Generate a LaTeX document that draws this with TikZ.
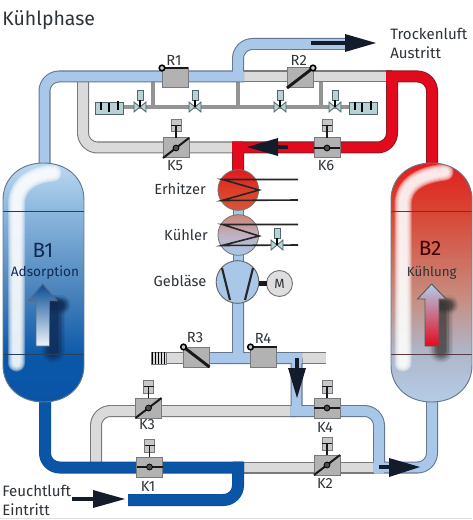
\documentclass[tikz,border=0pt]{standalone}
\usepackage{fontspec}
\setmainfont{Fira Sans}
\usetikzlibrary{arrows.meta}
\definecolor{ink}{HTML}{2E3338}
\definecolor{dark}{HTML}{141C2B}
\definecolor{lbF}{HTML}{A9C8E9}\definecolor{lbO}{HTML}{67788E}
\definecolor{grF}{HTML}{DADADA}\definecolor{grO}{HTML}{77797C}
\definecolor{rdF}{HTML}{E30A1E}\definecolor{rdO}{HTML}{8E1A22}
\definecolor{dbF}{HTML}{0A55A6}\definecolor{dbO}{HTML}{0A50A0}
\definecolor{teal1}{HTML}{B6D2D4}\definecolor{teal2}{HTML}{4F6468}
\definecolor{navy}{HTML}{0E2A55}
\definecolor{lineA}{HTML}{24405F}\definecolor{lineB}{HTML}{5A3A3A}
\pgfdeclareverticalshading{vesA}{100bp}{
 rgb(0bp)=(0.04,0.33,0.65);rgb(25bp)=(0.04,0.33,0.65);rgb(34bp)=(0.04,0.34,0.66);rgb(35bp)=(0.05,0.35,0.67);
 rgb(47bp)=(0.27,0.50,0.73);rgb(65bp)=(0.55,0.72,0.87);rgb(75bp)=(0.74,0.85,0.94);rgb(100bp)=(0.74,0.85,0.94)}
\pgfdeclareverticalshading{vesB}{100bp}{
 rgb(0bp)=(0.71,0.80,0.90);rgb(25bp)=(0.71,0.80,0.90);rgb(35bp)=(0.68,0.72,0.80);
 rgb(47bp)=(0.78,0.55,0.50);rgb(65bp)=(0.85,0.27,0.20);rgb(75bp)=(0.88,0.12,0.12);rgb(100bp)=(0.88,0.12,0.12)}
\pgfdeclareverticalshading{heatS}{100bp}{
 rgb(0bp)=(0.85,0.33,0.22);rgb(25bp)=(0.85,0.33,0.22);rgb(50bp)=(0.87,0.24,0.16);rgb(75bp)=(0.88,0.10,0.12);rgb(100bp)=(0.88,0.10,0.12)}
\pgfdeclareverticalshading{coolS}{100bp}{
 rgb(0bp)=(0.66,0.78,0.91);rgb(25bp)=(0.66,0.78,0.91);rgb(50bp)=(0.75,0.70,0.76);rgb(75bp)=(0.80,0.52,0.46);rgb(100bp)=(0.80,0.52,0.46)}
\tikzset{
 txt/.style={font=\fontsize{11pt}{13pt}\selectfont,text=ink,inner sep=0pt},
 block/.style={draw=grO,fill=black!30,minimum width=19.5pt,minimum height=15pt,inner sep=0pt,outer sep=0pt,line width=0.75pt},
 act/.style={draw=grO,fill=black!22,minimum width=7.5pt,minimum height=9.5pt,inner sep=0pt,outer sep=0pt,line width=0.5pt},
 flap/.style={line width=2.2pt,draw=black!90},
 thinpipe/.style={line width=2.6pt,draw=black!42},
 coil/.style={line width=1.2pt,draw=black!85},
 sil/.style={draw=teal2,fill=teal1,minimum width=21pt,minimum height=9pt,inner sep=0pt,outer sep=0pt,line width=0.5pt},
 sact/.style={draw=teal2,fill=teal1,minimum width=4.5pt,minimum height=7.5pt,inner sep=0pt,outer sep=0pt,line width=0.4pt},
 bow/.style={draw=teal2,fill=teal1,line width=0.6pt},
 flowl/.style={line width=2.4pt,draw=dark},
 flowh/.style={fill=dark,draw=none},
}
\newcommand\pipepath[3]{%
 \draw[line width=9pt,draw=#2,rounded corners=11pt] #3;
 \draw[line width=7.4pt,draw=#1,rounded corners=11pt] #3;}
\newcommand\vblock[3]{\node[block] (#1) at (#2,#3) {};}
\newcommand\actuator[3]{%
 \node[act] (#1) at (#2 |- 0,#3) {};
 \draw[line width=1.2pt,black!90] (#1.west) -- (#1.east);
 \draw[line width=1.2pt,black!90] (#1.center) -- (#2.north);}
\newcommand\hub[1]{\fill[black!70] (#1.center) circle (2.2pt);\draw[black,line width=0.6pt] (#1.center) circle (2.2pt);}
\newcommand\ring[1]{\draw[black,line width=1.2pt,fill=black!20] (#1) circle (2.1pt);}
\newcommand\minivalve[3]{%
 \coordinate (#1) at (#2,#3);
 \draw[bow] (#1) ++(-6,-5) -- ++(12,10) -- ++(0,-10) -- ++(-12,10) -- cycle;
 \node[sact] (#1a) at (#2,#3-12) {};
 \draw[line width=1.5pt,black] (#1a.south) -- (#1);}
\newcommand\vessel{(0,37) .. controls (0,15) and (17,0) .. (40.5,0) .. controls (64,0) and (81,15) .. (81,37) -- (81,202) .. controls (81,224) and (64,239) .. (40.5,239) .. controls (17,239) and (0,224) .. (0,202) -- cycle}
\begin{document}
\begin{tikzpicture}[x=0.75pt,y=-0.75pt]
\useasboundingbox (0,0) rectangle (472,520);
\fill[white] (0,0) rectangle (472,520);
\draw[black!12,line width=0.8pt] (0,518.5) -- (472,518.5);

\coordinate (b1t) at (44.5,170);\coordinate (b1b) at (45,395);
\coordinate (b2t) at (432,170);\coordinate (b2b) at (432,395);
\coordinate (tl) at (44.5,76.5);\coordinate (tj) at (238,76.5);
\coordinate (tu) at (238,44);\coordinate (out) at (346,44);
\coordinate (tr) at (432,76.5);\coordinate (rj) at (392,76.5);
\coordinate (rc) at (392,147.5);\coordinate (hj) at (232,147.5);
\coordinate (hv) at (238,141.5);\coordinate (hb) at (238,172);
\coordinate (gl) at (83,147.5);\coordinate (gt) at (83,76.5);
\coordinate (fanb) at (238,298);\coordinate (mj) at (238,358);
\coordinate (ml) at (167,358);\coordinate (mr) at (326,358);
\coordinate (dj) at (296.5,358);\coordinate (dk) at (296.5,411);
\coordinate (rc4) at (379,411);\coordinate (br) at (379,473.5);
\coordinate (brl) at (373,467.5);\coordinate (brc) at (432,467.5);
\coordinate (g3) at (96,411);\coordinate (g3b) at (96,467.5);
\coordinate (bl) at (45,467.5);\coordinate (bj) at (244,467.5);
\coordinate (bju) at (238,461.5);
\coordinate (bj2) at (238,500);\coordinate (in) at (128,500);
\coordinate (gr) at (373.5,467.5);

\draw[thinpipe] (153,80) -- (153,107);
\draw[thinpipe] (238,80) -- (238,107);
\draw[thinpipe] (321,80) -- (321,107);
\draw[thinpipe] (123,107) -- (349,107);

\pipepath{grF}{grO}{(hj) -- (gl) -- (gt)}
\pipepath{grF}{grO}{(tj) -- (rj)}
\pipepath{grF}{grO}{(mr) -- (ml)}
\pipepath{grF}{grO}{(dk) -- (g3) -- (g3b)}
\pipepath{grF}{grO}{(bj) -- (gr)}
\pipepath{lbF}{lbO}{(b1t) -- (tl) -- (244,76.5) (tj) -- (tu) -- (out)}
\pipepath{lbF}{lbO}{(fanb) -- (mj) (210,358) -- (302,358) (dj) -- (dk) (290.5,411) -- (rc4) -- (br) (brl) -- (brc) -- (b2b)}
\pipepath{rdF}{rdO}{(b2t) -- (tr) -- (386,76.5) (rj) -- (rc) -- (hj) (hv) -- (hb)}
\pipepath{dbF}{dbO}{(b1b) -- (bl) -- (bj) (bju) -- (bj2) -- (in)}

\draw[line width=7pt,draw=lbF] (238,208) -- (238,216);
\draw[line width=7pt,draw=lbF] (238,254) -- (238,262);
\draw[lbO,line width=0.5pt] (233,208) -- (233,216) (243,208) -- (243,216) (233,254) -- (233,262) (243,254) -- (243,262);

\node[sil] (s1) at (109,108) {};
\foreach \x/\a/\b in {-8/-6/2,0/-4.5/4,9/-7/2}\draw[line width=1.2pt,black] ([shift={(\x,\a)}]s1.center) -- ([shift={(\x,\b)}]s1.center);
\node[sil] (s2) at (363,108) {};
\foreach \x/\a/\b in {-8/-6/2,-1/-4.5/4,8/-7/2}\draw[line width=1.2pt,black] ([shift={(\x,\a)}]s2.center) -- ([shift={(\x,\b)}]s2.center);
\node[draw=grO,fill=black!15,minimum width=11pt,minimum height=9pt,inner sep=0,outer sep=0,line width=.4pt] (s3) at (158.5,358) {};
\foreach \x in {-6,-3,0,3,6}\draw[line width=1.1pt,black] ([shift={(\x,-6)}]s3.center) -- ([shift={(\x,6)}]s3.center);

\minivalve{m1}{140}{107}
\minivalve{m2}{195}{107}
\minivalve{m3}{280}{107}
\minivalve{m4}{335}{107}

\vblock{R1}{175}{78}
\vblock{R2}{300}{78}
\vblock{K5}{176}{148}
\vblock{K6}{327}{148}
\vblock{R3}{196.5}{357}
\vblock{R4}{263.5}{357}
\vblock{K3}{148.5}{408}
\vblock{K4}{327}{408}
\vblock{K1}{149.5}{467}
\vblock{K2}{327}{465}
\actuator{K5a}{K5}{125.5}
\actuator{K6a}{K6}{125.5}
\actuator{K3a}{K3}{386.5}
\actuator{K4a}{K4}{386.5}
\actuator{K1a}{K1}{445.5}
\actuator{K2a}{K2}{443.5}
\draw[flap] (R1.north west) -- (R1.north east); \ring{R1.north west}
\draw[flap] (R2.south west) -- (R2.north east); \ring{R2.north east}
\draw[flap] (R3.north west) -- (R3.south east); \ring{R3.north west}
\draw[flap] (R4.north west) -- (R4.north east); \ring{R4.north west}
\draw[flap,line width=1.5pt] (K5.south west) -- (K5.north east); \hub{K5}
\draw[flap,line width=1.5pt] (K6.west) -- (K6.east); \hub{K6}
\draw[flap,line width=1.5pt] (K3.south west) -- (K3.north east); \hub{K3}
\draw[flap,line width=1.5pt] (K4.west) -- (K4.east); \hub{K4}
\draw[flap,line width=1.5pt] (K1.west) -- (K1.east); \hub{K1}
\draw[flap,line width=1.5pt] (K2.south west) -- (K2.north east); \hub{K2}

\node[circle,draw=black!55,line width=.6pt,shade,shading=heatS,minimum size=30.5pt,inner sep=0,outer sep=0] (Eh) at (238.3,190) {};
\coordinate (e1) at (298,179.5);\coordinate (e2) at (298,200);
\draw[coil] (e1) -- (222.5,179.5) -- (259,190) -- (222,200.5) -- (e2);
\node[circle,draw=black!55,line width=.6pt,shade,shading=coolS,minimum size=30.5pt,inner sep=0,outer sep=0] (Kh) at (238.3,235) {};
\coordinate (k1) at (298,224.5);\coordinate (k2) at (298,245);
\draw[coil] (k1) -- (222.5,224.5) -- (259,236) -- (222,245.5) -- (k2);
\minivalve{m5}{277}{245}
\node[circle,draw=black!60,line width=.7pt,fill=lbF,minimum size=32pt,inner sep=0,outer sep=0] (Gb) at (237.5,282) {};
\draw[coil,line width=1.6pt] (222,268) -- (230,300) (253,268) -- (245,300);
\node[circle,draw=black!55,line width=.7pt,fill=black!13,minimum size=19.5pt,inner sep=0,outer sep=0] (M) at (279.5,283.5) {};
\draw[line width=3.6pt,black!90] (Gb.east |- M) -- (M.west);
\node[font=\fontsize{10pt}{12pt}\selectfont,text=ink] at (M) {M};

\begin{scope}[shift={(3,163)}]
 \path[shade,shading=vesA] \vessel;
 \begin{scope}
  \clip \vessel;
  \foreach \w in {17,15,13,11,9,7}
   \draw[white,opacity=.32,line width=\w*0.75pt,line cap=round] (13.5,200) -- (13.5,42) .. controls (13.5,22) and (28,12) .. (50,10);
  \foreach \w/\o in {24/.12,21/.16,18/.22,15/.28,12/.34,9/.4}{
   \draw[navy,opacity=\o,line width=\w*0.75pt,line cap=round] (50,144) -- (50,188);
   \draw[navy,opacity=\o,line width=\w*0.6pt,line cap=round] (48,142) -- (58,142);}
  \draw[lineA,line width=.6pt] (0,48) -- (81,48) (0,191) -- (81,191);
 \end{scope}
 \draw[lbO,line width=.7pt] \vessel;
 \draw[line width=.7pt,draw=navy!70,top color=dbF!90!black,bottom color=white!80!lbF]
  (39.7,121) -- (54,137.7) -- (46.5,137.7) -- (46.5,183) -- (33,183) -- (33,137.7) -- (25.5,137.7) -- cycle;
\end{scope}
\begin{scope}[shift={(391,163)}]
 \path[shade,shading=vesB] \vessel;
 \begin{scope}
  \clip \vessel;
  \foreach \w in {17,15,13,11,9,7}
   \draw[white,opacity=.32,line width=\w*0.75pt,line cap=round] (12,200) -- (12,42) .. controls (12,22) and (28,12) .. (54,9);
  \foreach \w/\o in {24/.08,21/.12,18/.16,15/.22,12/.26,9/.3}{
   \draw[black!80,opacity=\o,line width=\w*0.75pt,line cap=round] (50,144) -- (50,188);
   \draw[black!80,opacity=\o,line width=\w*0.6pt,line cap=round] (48,142) -- (58,142);}
  \draw[lineB,line width=.6pt] (0,48) -- (81,48) (0,191) -- (81,191);
 \end{scope}
 \draw[lbO,line width=.7pt] \vessel;
 \draw[line width=.7pt,draw=black!65,top color=lbF!90!white,bottom color=rdF]
  (40.7,121) -- (55,136) -- (48,136) -- (48,183) -- (34,183) -- (34,136) -- (26.5,136) -- cycle;
\end{scope}

\coordinate (a1) at (311,43);\coordinate (a1t) at (376,43);
\draw[flowl] (a1) -- (345,43);
\fill[flowh] (345,34) -- (a1t) -- (345,52) -- cycle;
\coordinate (a2) at (288,147);\coordinate (a2t) at (247,147);
\draw[flowl] (a2) -- (278,147);
\fill[flowh] (278,138) -- (a2t) -- (278,156) -- cycle;
\coordinate (a3) at (72,499);\coordinate (a3t) at (125,499);
\draw[flowl] (a3) -- (93,499);
\fill[flowh] (93,490) -- (a3t) -- (93,508) -- cycle;
\coordinate (a4) at (297,358);\coordinate (a4t) at (297,398);
\draw[flowl,line width=3pt] (a4) -- (297,368);
\fill[flowh] (288,368) -- (a4t) -- (306,368) -- cycle;
\coordinate (a5) at (379,467);\coordinate (a5t) at (420,467);
\draw[flowl] (a5) -- (389,467);
\fill[flowh] (389,458) -- (a5t) -- (389,477) -- cycle;

\node[txt,anchor=base west,font=\fontsize{14.6pt}{17pt}\selectfont] (title) at (2,26) {Kühlphase};
\node[txt,anchor=base west,font=\fontsize{11.3pt}{13pt}\selectfont] (t1) at (390,40) {Trockenluft};
\node[txt,anchor=base west,font=\fontsize{11.3pt}{13pt}\selectfont] (t2) at (390,59) {Austritt};
\node[txt,anchor=base west,font=\fontsize{11.3pt}{13pt}\selectfont] (t3) at (2,496) {Feuchtluft};
\node[txt,anchor=base west,font=\fontsize{11.3pt}{13pt}\selectfont] (t4) at (2,515) {Eintritt};
\node[txt] (lR1) at (174,60) {R1};
\node[txt] (lR2) at (298.7,60) {R2};
\node[txt] (lK5) at (175,166) {K5};
\node[txt] (lK6) at (326,166) {K6};
\node[txt] (lE) at (180,189) {Erhitzer};
\node[txt] (lK) at (186,235) {Kühler};
\node[txt] (lG) at (180,281) {Gebläse};
\node[txt] (lR3) at (195,338) {R3};
\node[txt] (lR4) at (263,338) {R4};
\node[txt] (lK3) at (147,425) {K3};
\node[txt] (lK4) at (325,427) {K4};
\node[txt] (lK1) at (148,486) {K1};
\node[txt] (lK2) at (325,483) {K2};
\node[txt,font=\fontsize{15.5pt}{18pt}\selectfont,text=navy] (lB1) at (43,250) {B1};
\node[txt,font=\fontsize{10.2pt}{12pt}\selectfont,text=navy] (lA) at (45,273) {Adsorption};
\node[txt,font=\fontsize{15.5pt}{18pt}\selectfont,text=black!75!red] (lB2) at (430,248) {B2};
\node[txt,font=\fontsize{10pt}{12pt}\selectfont] (lC) at (431.7,273) {Kühlung};
\end{tikzpicture}
\end{document}
